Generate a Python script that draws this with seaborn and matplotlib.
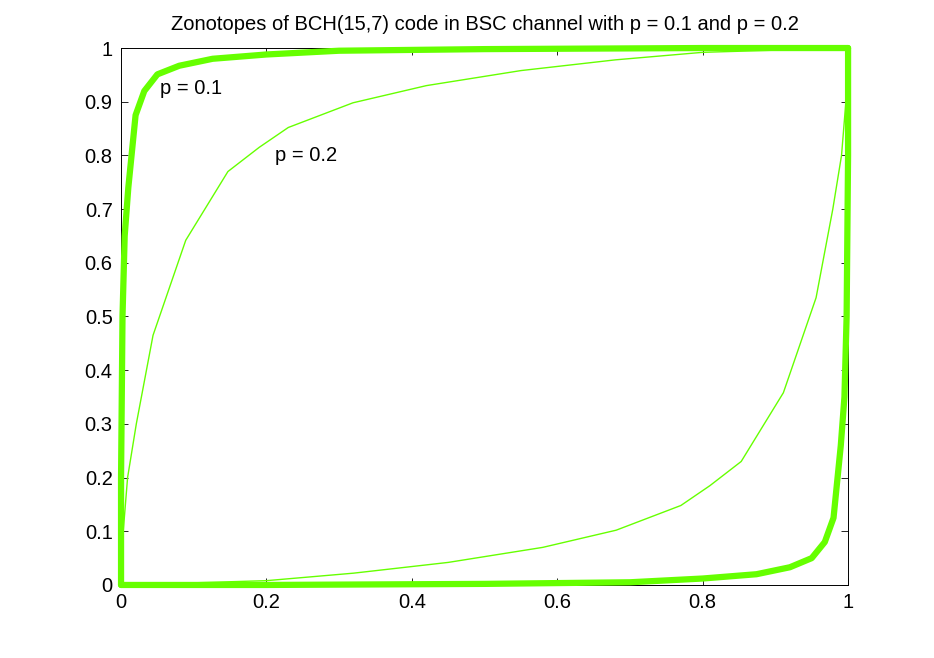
import matplotlib
matplotlib.use("Agg")
import matplotlib.pyplot as plt
import seaborn as sns

# zonotope boundaries, p = 0.1 (thick) and p = 0.2 (thin)
p01_upper_x = [0, 0, 0.002, 0.005, 0.01, 0.02, 0.032, 0.05, 0.08, 0.126, 0.2, 0.3, 0.5, 0.8, 1]
p01_upper_y = [0, 0.2, 0.5, 0.65, 0.74, 0.875, 0.92, 0.951, 0.967, 0.980, 0.988, 0.995, 0.998, 1, 1]
p01_lower_x = [0, 0.2, 0.5, 0.7, 0.8, 0.874, 0.92, 0.95, 0.968, 0.98, 0.99, 0.995, 0.998, 1, 1]
p01_lower_y = [0, 0, 0.002, 0.005, 0.012, 0.020, 0.033, 0.05, 0.08, 0.125, 0.26, 0.35, 0.5, 0.8, 1]

p02_upper_x = [0, 0.003, 0.009, 0.021, 0.044, 0.089, 0.147, 0.19, 0.23, 0.319, 0.42, 0.55, 0.68, 0.8, 1]
p02_upper_y = [0, 0.1, 0.2, 0.3, 0.465, 0.642, 0.770, 0.815, 0.852, 0.898, 0.93, 0.958, 0.978, 0.992, 1]
p02_lower_x = [0, 0.2, 0.32, 0.45, 0.58, 0.681, 0.77, 0.81, 0.853, 0.911, 0.956, 0.979, 0.991, 0.997, 1]
p02_lower_y = [0, 0.008, 0.022, 0.042, 0.07, 0.102, 0.148, 0.185, 0.23, 0.358, 0.535, 0.7, 0.8, 0.9, 1]

yticks = [0, 0.1, 0.2, 0.3, 0.4, 0.5, 0.6, 0.7, 0.8, 0.9, 1]
xticks = [0, 0.2, 0.4, 0.6, 0.8, 1]
ytick_labels = ["0", "0.1", "0.2", "0.3", "0.4", "0.5", "0.6", "0.7", "0.8", "0.9", "1"]
xtick_labels = ["0", "0.2", "0.4", "0.6", "0.8", "1"]

sns.set_style("white")
plt.rcParams["font.family"] = ["Liberation Sans", "DejaVu Sans"]
plt.rcParams["text.color"] = "black"
plt.rcParams["xtick.color"] = "black"
plt.rcParams["ytick.color"] = "black"

green = "#66ff00"

fig = plt.figure(figsize=(9.34, 6.58), dpi=100)
ax = fig.add_axes([0.1296, 0.111, 0.7784, 0.816])

for xs, ys, lw in [
    (p01_upper_x, p01_upper_y, 4.5),
    (p01_lower_x, p01_lower_y, 4.5),
    (p02_upper_x, p02_upper_y, 1.0),
    (p02_lower_x, p02_lower_y, 1.0),
]:
    sns.lineplot(x=xs, y=ys, sort=False, estimator=None, color=green,
                 linewidth=lw, ax=ax, clip_on=False, zorder=3)

ax.text(0.054, 0.925, "p = 0.1", fontsize=14.5, va="center", ha="left", color="black")
ax.text(0.212, 0.80, "p = 0.2", fontsize=14.5, va="center", ha="left", color="black")

ax.set_xlim(0, 1)
ax.set_ylim(0, 1)
ax.set_xticks(xticks)
ax.set_yticks(yticks)
ax.set_xticklabels(xtick_labels)
ax.set_yticklabels(ytick_labels)
ax.tick_params(direction="in", length=5, width=0.6, colors="black", labelsize=14.5,
               top=True, right=True, bottom=True, left=True, pad=6)
for s in ax.spines.values():
    s.set_color("black")
    s.set_linewidth(0.7)
ax.set_title("Zonotopes of BCH(15,7) code in BSC channel with p = 0.1 and p = 0.2",
             fontsize=14.5, pad=13, color="black")

fig.savefig("out.png", dpi=100)
